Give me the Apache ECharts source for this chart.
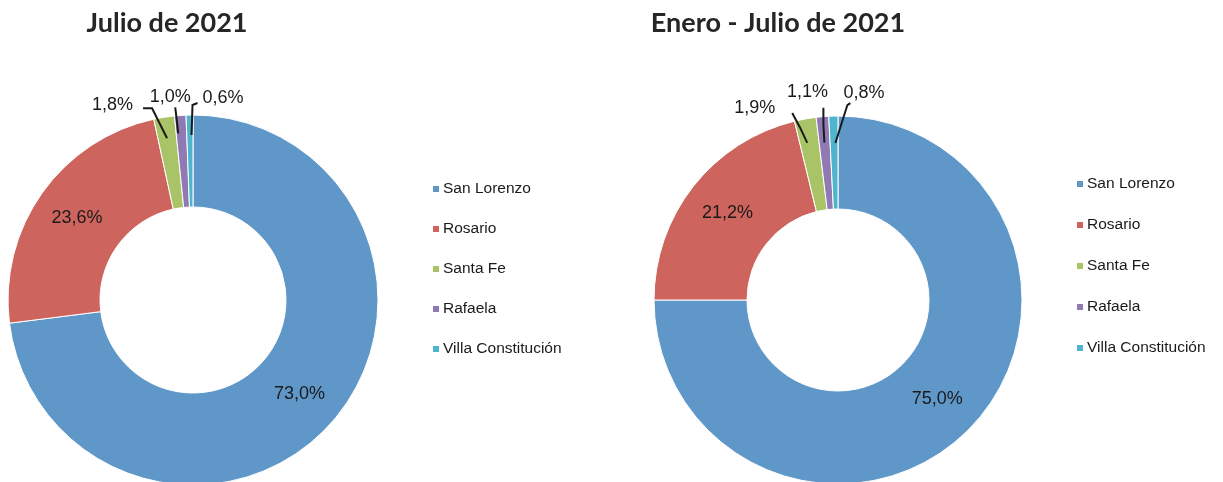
<!DOCTYPE html>
<html>
<head>
<meta charset="utf-8">
<script src="https://cdn.jsdelivr.net/npm/echarts@6/dist/echarts.min.js"></script>
<style>
html,body{margin:0;padding:0;background:#fff;}
#main{width:1223px;height:482px;}
</style>
</head>
<body>
<div id="main"></div>
<script>
var ciudades = ['San Lorenzo', 'Rosario', 'Santa Fe', 'Rafaela', 'Villa Constitución'];
var julio = [73.0, 23.6, 1.8, 1.0, 0.6];
var eneroJulio = [75.0, 21.2, 1.9, 1.1, 0.8];
var titulos = ['Julio de 2021', 'Enero - Julio de 2021'];
var colores = ['#6097C9', '#CD645D', '#A9C466', '#9179B4', '#4FB4CD'];

// desplazamientos de las etiquetas chicas respecto del borde de la porcion
var ajustes = [
    {
        2: {line: [[3, 21], [-12, -9], [-21, -9]], lab: [-31, -12], align: 'right'},
        3: {line: [[-2, 18], [-4, 0], [-5, -8]], lab: [-10, -18], align: 'center'},
        4: {line: [[2, 20], [3, -10], [8, -12]], lab: [13, -17], align: 'left'}
    },
    {
        2: {line: [[2, 24], [-5, 9], [-13, -6]], lab: [-30, -11], align: 'right'},
        3: {line: [[2, 26], [1, 8], [1, -9]], lab: [-15, -25], align: 'center'},
        4: {line: [[2, 27], [14, -11], [17, -13]], lab: [10, -23], align: 'left'}
    }
];

var fuente = '"Liberation Sans", Arial, sans-serif';
var myChart = echarts.init(document.getElementById('main'));

function formato(p){
    return p.value.toFixed(1).replace('.', ',') + '%';
}

// anillo con colores y las dos etiquetas grandes
function armarDatos(valores){
    var datos = [];
    for (var i = 0; i < valores.length; i++) {
        datos.push({
            name: ciudades[i],
            value: valores[i],
            label: {show: i < 2}
        });
    }
    return datos;
}

// copia transparente encima, solo para etiquetas chicas con su linea
function armarChicas(valores){
    var datos = [];
    for (var i = 0; i < valores.length; i++) {
        datos.push({
            name: ciudades[i],
            value: valores[i],
            label: {show: i >= 2},
            labelLine: {show: i >= 2}
        });
    }
    return datos;
}

function layout(serie){
    return function(params){
        var a = ajustes[serie][params.dataIndex];
        if (!a || !params.labelLinePoints) return {};
        var p = params.labelLinePoints[0];
        return {
            x: p[0] + a.lab[0],
            y: p[1] + a.lab[1],
            align: a.align,
            verticalAlign: 'middle',
            labelLinePoints: a.line.map(function(d){ return [p[0] + d[0], p[1] + d[1]]; })
        };
    };
}

var etiqueta = {
    formatter: formato,
    fontFamily: fuente,
    fontSize: 18,
    color: '#1a1a1a'
};

function anillo(valores, centro, radio){
    return {
        type: 'pie',
        z: 2,
        center: centro,
        radius: radio,
        startAngle: 90,
        clockwise: true,
        silent: true,
        itemStyle: {borderColor: '#fff', borderWidth: 1},
        label: Object.assign({position: 'inside'}, etiqueta),
        labelLine: {show: false},
        data: armarDatos(valores)
    };
}

function chicas(idx, valores, centro, radio){
    return {
        type: 'pie',
        z: 4,
        center: centro,
        radius: radio,
        startAngle: 90,
        clockwise: true,
        silent: true,
        avoidLabelOverlap: false,
        itemStyle: {color: 'rgba(0,0,0,0)', borderWidth: 0},
        label: Object.assign({position: 'outside'}, etiqueta),
        labelLine: {
            length: 10,
            length2: 8,
            lineStyle: {color: '#1a1a1a', width: 2}
        },
        labelLayout: layout(idx),
        data: armarChicas(valores)
    };
}

var leyenda = {
    orient: 'vertical',
    icon: 'rect',
    itemWidth: 8,
    itemHeight: 8,
    itemGap: 24,
    selectedMode: false,
    textStyle: {fontFamily: fuente, fontSize: 15.5, color: '#1a1a1a', lineHeight: 16, padding: [0, 0, 0, -2]},
    data: ciudades
};

option = {
    color: colores,
    animation: false,
    textStyle: {fontFamily: fuente},
    title: [
        {text: titulos[0], left: 162, top: 5, textAlign: 'center',
         textStyle: {fontFamily: 'Lato', fontWeight: 'bold', fontSize: 27, color: '#262626'}},
        {text: titulos[1], left: 773, top: 5, textAlign: 'center',
         textStyle: {fontFamily: 'Lato', fontWeight: 'bold', fontSize: 27, color: '#262626'}}
    ],
    legend: [
        Object.assign({}, leyenda, {left: 426, top: 176}),
        Object.assign({}, leyenda, {left: 1070, top: 171, itemGap: 25})
    ],
    series: [
        anillo(julio, [193, 300], [93, 185]),
        anillo(eneroJulio, [838, 300], [91, 184]),
        chicas(0, julio, [193, 300], [93, 185]),
        chicas(1, eneroJulio, [838, 300], [91, 184])
    ]
};
myChart.setOption(option);
</script>
</body>
</html>
